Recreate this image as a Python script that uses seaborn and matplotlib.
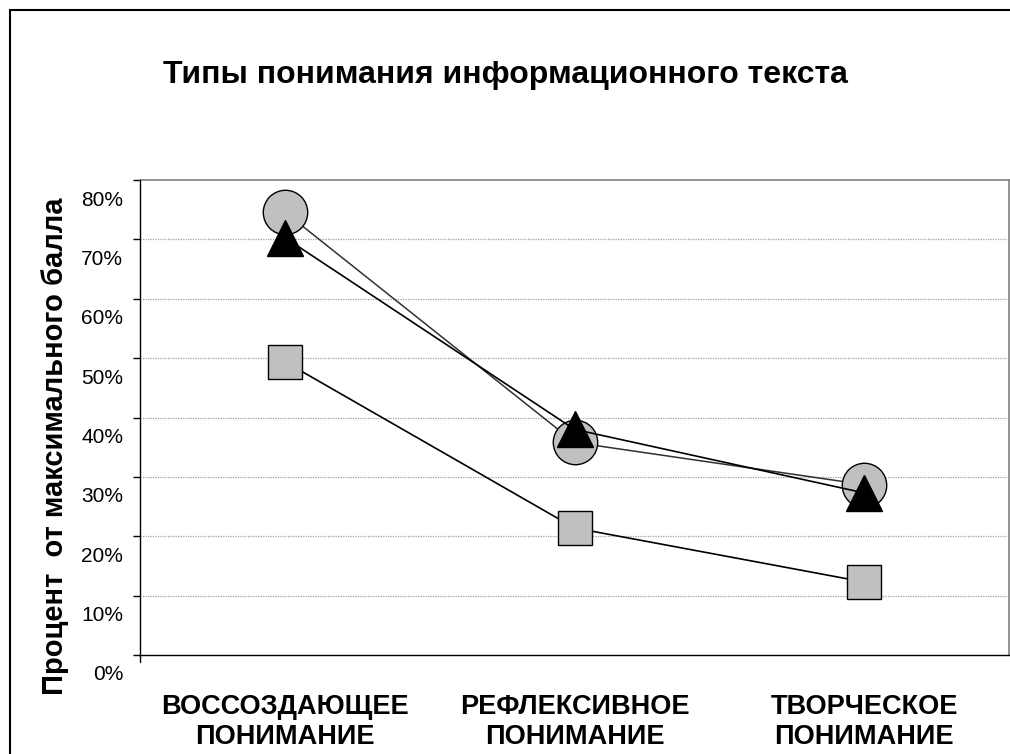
import matplotlib
matplotlib.use("Agg")
import matplotlib.pyplot as plt
import matplotlib.transforms as mtransforms
from matplotlib.patches import Rectangle
import numpy as np
import pandas as pd
import seaborn as sns

# Data (percent of the maximum score)
categories = ["ВОССОЗДАЮЩЕЕ\nПОНИМАНИЕ", "РЕФЛЕКСИВНОЕ\nПОНИМАНИЕ", "ТВОРЧЕСКОЕ\nПОНИМАНИЕ"]
circle_values = [74.6, 35.8, 28.7]
triangle_values = [70.3, 38.0, 27.3]
square_values = [49.4, 21.4, 12.3]
y_ticks = [0, 10, 20, 30, 40, 50, 60, 70, 80]
y_tick_labels = ["0%", "10%", "20%", "30%", "40%", "50%", "60%", "70%", "80%"]

title = "Типы понимания информационного текста"
y_label = "Процент  от максимального балла"

sns.set_theme(style="white")
plt.rcParams["font.family"] = ["Liberation Sans", "DejaVu Sans"]
for key in ["text.color", "axes.labelcolor", "xtick.color", "ytick.color"]:
    plt.rcParams[key] = "black"

fig = plt.figure(figsize=(10.10, 7.54), dpi=100)
fig.patch.set_facecolor("white")
ax = fig.add_axes([140 / 1010, 1 - 655 / 754, 869 / 1010, 475 / 754])

x = np.arange(len(categories))
df = pd.DataFrame({
    "pos": np.tile(x, 3),
    "value": circle_values + triangle_values + square_values,
    "series": ["circle"] * 3 + ["triangle"] * 3 + ["square"] * 3,
})

styles = {
    "circle": dict(marker="o", markersize=32, markerfacecolor="#C0C0C0",
                   markeredgecolor="black", markeredgewidth=1.0,
                   color="#303030", linewidth=1.1),
    "triangle": dict(marker="^", markersize=26, markerfacecolor="black",
                     markeredgecolor="black", markeredgewidth=1.0,
                     color="black", linewidth=1.2),
    "square": dict(marker="s", markersize=24.5, markerfacecolor="#C0C0C0",
                   markeredgecolor="black", markeredgewidth=1.0,
                   color="black", linewidth=1.2),
}
for i, (name, kw) in enumerate(styles.items()):
    sub = df[df["series"] == name]
    sns.lineplot(data=sub, x="pos", y="value", ax=ax, zorder=3 + i,
                 legend=False, **kw)

ax.set_xlim(-0.5, 2.5)
ax.set_ylim(0, 80)

# Gridlines
ax.set_yticks(y_ticks)
for yv in y_ticks[1:-1]:
    ax.axhline(yv, color="#A0A0A0", linewidth=0.9, linestyle=(0, (1, 1)), zorder=1)

# Spines
for s in ["top", "right"]:
    ax.spines[s].set_visible(True)
    ax.spines[s].set_color("#808080")
    ax.spines[s].set_linewidth(1.2)
for s in ["left", "bottom"]:
    ax.spines[s].set_color("black")
    ax.spines[s].set_linewidth(1.0)
ax.spines["left"].set_zorder(6)
ax.spines["bottom"].set_zorder(6)

# Small tick below the axis corner
ax.plot([0, 0], [0, -7 / 475], transform=ax.transAxes, color="black",
        linewidth=1.0, clip_on=False)

# Y tick labels
ax.set_yticklabels(y_tick_labels, fontsize=15)
ax.tick_params(axis="y", which="major", direction="out", length=5, width=1.0,
               color="black", labelcolor="black", pad=7, left=True)
offset = mtransforms.ScaledTranslation(0, -18 / 100, fig.dpi_scale_trans)
for lbl in ax.get_yticklabels():
    lbl.set_transform(lbl.get_transform() + offset)

# X tick labels
ax.set_xticks(x)
ax.set_xticklabels(categories, fontsize=19.5, fontweight="bold", linespacing=1.22)
ax.tick_params(axis="x", length=0, pad=28, labelcolor="black")

ax.set_xlabel("")
ax.set_ylabel(y_label, fontsize=21, fontweight="bold", va="center", color="black")
ax.yaxis.set_label_coords(-85 / 869, (655 - 446) / 475)

fig.text(505 / 1010, 1 - 75 / 754, title, fontsize=23, fontweight="bold",
         ha="center", va="center", color="black")

# Outer frame
fig.patches.append(Rectangle((10 / 1010, -0.05), 1.2, 1 - 10 / 754 + 0.05,
                             transform=fig.transFigure, fill=False,
                             edgecolor="black", linewidth=1.5))

fig.savefig("out.png", dpi=100, facecolor="white")
